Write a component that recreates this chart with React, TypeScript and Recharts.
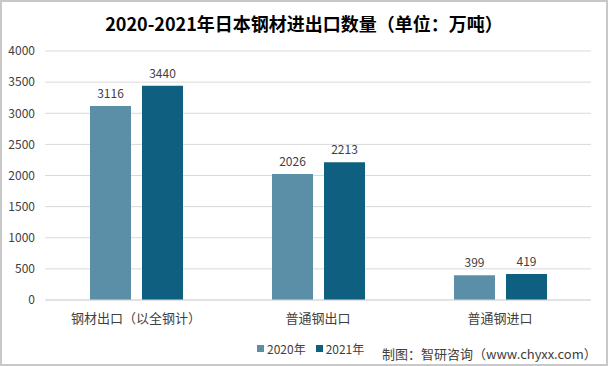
import { BarChart, Bar, XAxis, YAxis, CartesianGrid, LabelList } from 'recharts';

const categories = ['钢材出口（以全钢计）', '普通钢出口', '普通钢进口'];
const values2020 = [3116, 2026, 399];
const values2021 = [3440, 2213, 419];
const yTicks = [0, 500, 1000, 1500, 2000, 2500, 3000, 3500, 4000];

const data = categories.map((name, i) => ({
    name,
    y2020: values2020[i],
    y2021: values2021[i],
}));

const font = '"Noto Sans CJK SC", "Noto Sans", sans-serif';

const LegendRow = () => (
    <div
        style={{
            position: 'absolute',
            left: 255,
            top: 338,
            display: 'flex',
            alignItems: 'center',
            fontSize: 12,
            color: '#404040',
            fontFamily: font,
        }}
    >
        <span style={{ width: 7, height: 7, background: '#5b8fa8', marginRight: 3 }} />
        <span style={{ marginRight: 10 }}>2020年</span>
        <span style={{ width: 7, height: 7, background: '#0f5f80', marginRight: 3 }} />
        <span>2021年</span>
    </div>
);

export default function App() {
    return (
        <div
            style={{
                position: 'absolute',
                left: 0,
                top: 0,
                width: 608,
                height: 366,
                boxSizing: 'border-box',
                border: '2px solid #c8c8c8',
                background: '#fff',
                fontFamily: font,
            }}
        >
            <div
                style={{
                    position: 'absolute',
                    top: 8,
                    left: 0,
                    width: 604,
                    textAlign: 'center',
                    fontSize: 18,
                    fontWeight: 'bold',
                    color: '#000',
                }}
            >
                2020-2021年日本钢材进出口数量（单位：万吨）
            </div>
            <div style={{ position: 'absolute', left: -2, top: -2 }}>
                <BarChart
                    width={608}
                    height={366}
                    data={data}
                    margin={{ top: 51, right: 17, bottom: 36, left: 0 }}
                    barSize={41}
                    barGap={11}
                >
                    <CartesianGrid vertical={false} stroke="#d9d9d9" />
                    <XAxis
                        dataKey="name"
                        height={30}
                        axisLine={{ stroke: '#d9d9d9' }}
                        tickLine={false}
                        tick={{ fontSize: 13, fill: '#404040' }}
                        tickMargin={8}
                    />
                    <YAxis
                        width={45}
                        domain={[0, 4000]}
                        ticks={yTicks}
                        axisLine={false}
                        tickLine={false}
                        tick={{ fontSize: 12, fill: '#404040' }}
                        tickMargin={4}
                    />
                    <Bar dataKey="y2020" fill="#5b8fa8" isAnimationActive={false}>
                        <LabelList dataKey="y2020" position="top" offset={8} fontSize={12} fill="#404040" />
                    </Bar>
                    <Bar dataKey="y2021" fill="#0f5f80" isAnimationActive={false}>
                        <LabelList dataKey="y2021" position="top" offset={8} fontSize={12} fill="#404040" />
                    </Bar>
                </BarChart>
            </div>
            <LegendRow />
            <div
                style={{
                    position: 'absolute',
                    left: 380,
                    top: 342,
                    fontSize: 13,
                    color: '#404040',
                }}
            >
                制图：智研咨询（www.chyxx.com）
            </div>
        </div>
    );
}
